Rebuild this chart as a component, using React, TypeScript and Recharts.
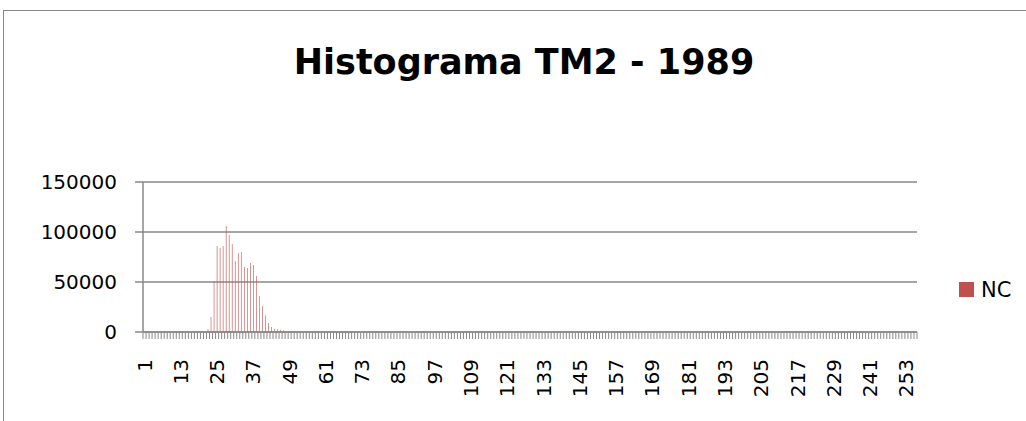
import { BarChart, Bar, XAxis, YAxis, CartesianGrid } from 'recharts';

// histogram bins 1..256 (category axis)
const BINS = Array.from({ length: 256 }, (_, i) => String(i + 1));

// pixel counts per bin
const NC_COUNTS = [
  0, 0, 0, 0, 0, 0, 0, 0, 0, 0, 0, 0, 0, 0, 0, 0,
  0, 0, 0, 0, 0, 3000, 15000, 51000, 86000, 84000, 86000, 106000, 97000, 88000, 71000, 79000,
  80000, 65000, 64000, 69000, 67000, 56000, 36000, 26000, 16500, 9000, 5000, 3200, 2800, 2200, 1800, 0,
  0, 0, 0, 0, 0, 0, 0, 0, 0, 0, 0, 0, 0, 0, 0, 0,
  0, 0, 0, 0, 0, 0, 0, 0, 0, 0, 0, 0, 0, 0, 0, 0,
  0, 0, 0, 0, 0, 0, 0, 0, 0, 0, 0, 0, 0, 0, 0, 0,
  0, 0, 0, 0, 0, 0, 0, 0, 0, 0, 0, 0, 0, 0, 0, 0,
  0, 0, 0, 0, 0, 0, 0, 0, 0, 0, 0, 0, 0, 0, 0, 0,
  0, 0, 0, 0, 0, 0, 0, 0, 0, 0, 0, 0, 0, 0, 0, 0,
  0, 0, 0, 0, 0, 0, 0, 0, 0, 0, 0, 0, 0, 0, 0, 0,
  0, 0, 0, 0, 0, 0, 0, 0, 0, 0, 0, 0, 0, 0, 0, 0,
  0, 0, 0, 0, 0, 0, 0, 0, 0, 0, 0, 0, 0, 0, 0, 0,
  0, 0, 0, 0, 0, 0, 0, 0, 0, 0, 0, 0, 0, 0, 0, 0,
  0, 0, 0, 0, 0, 0, 0, 0, 0, 0, 0, 0, 0, 0, 0, 0,
  0, 0, 0, 0, 0, 0, 0, 0, 0, 0, 0, 0, 0, 0, 0, 0,
  0, 0, 0, 0, 0, 0, 0, 0, 0, 0, 0, 0, 0, 0, 0, 0,
];

const X_LABELS = [
  '1', '13', '25', '37', '49', '61', '73', '85', '97', '109', '121',
  '133', '145', '157', '169', '181', '193', '205', '217', '229', '241', '253',
];

const Y_TICKS = [0, 50000, 100000, 150000];

const data = BINS.map((bin, i) => ({ bin, nc: NC_COUNTS[i] }));

const FONT = 'DejaVu Sans';
const GRAY = '#888888';
const RED = '#C0504D';
const PLOT_LEFT = 143;
const PLOT_RIGHT = 917;
const HALF_BAND = (PLOT_RIGHT - PLOT_LEFT) / BINS.length / 2;

function BinTick(props: any) {
  const { x, y, payload } = props;
  const showLabel = X_LABELS.includes(payload.value);
  return (
    <g>
      <line x1={x - HALF_BAND} y1={y} x2={x - HALF_BAND} y2={y + 7} stroke={GRAY} strokeWidth={1} />
      {payload.index === BINS.length - 1 && (
        <line x1={x + HALF_BAND} y1={y} x2={x + HALF_BAND} y2={y + 7} stroke={GRAY} strokeWidth={1} />
      )}
      {showLabel && (
        <text
          x={x}
          y={y + 27}
          transform={`rotate(-90, ${x}, ${y + 27})`}
          textAnchor="end"
          dominantBaseline="central"
          fontFamily={FONT}
          fontSize={20}
          fill="#000"
        >
          {payload.value}
        </text>
      )}
    </g>
  );
}

export default function App() {
  return (
    <div
      style={{
        position: 'fixed',
        left: 0,
        top: 0,
        width: 1026,
        height: 421,
        overflow: 'hidden',
        background: '#fff',
      }}
    >
      <div
        style={{
          position: 'absolute',
          left: 3,
          top: 10,
          width: 1100,
          height: 500,
          border: `1px solid ${GRAY}`,
        }}
      />
      <div style={{ position: 'absolute', left: 0, top: 0 }}>
        <BarChart
          width={1026}
          height={421}
          data={data}
          margin={{ top: 182, right: 1026 - PLOT_RIGHT, bottom: 9, left: 0 }}
          barCategoryGap="60%"
        >
          <CartesianGrid vertical={false} stroke={GRAY} strokeWidth={1.5} />
          <XAxis
            dataKey="bin"
            height={80}
            interval={0}
            tickLine={false}
            tickSize={0}
            tickMargin={0}
            axisLine={{ stroke: GRAY, strokeWidth: 1.5 }}
            tick={<BinTick />}
          />
          <YAxis
            width={PLOT_LEFT}
            domain={[0, 150000]}
            ticks={Y_TICKS}
            tickSize={8}
            tickMargin={18}
            tickLine={{ stroke: GRAY, strokeWidth: 1.5 }}
            axisLine={{ stroke: GRAY, strokeWidth: 1.5 }}
            tick={{ fontSize: 20, fill: '#000', fontFamily: FONT }}
          />
          <Bar dataKey="nc" name="NC" fill={RED} isAnimationActive={false} />
        </BarChart>
      </div>
      <svg
        width={1026}
        height={421}
        style={{ position: 'absolute', left: 0, top: 0, pointerEvents: 'none' }}
      >
        <text x={524} y={74} textAnchor="middle" fontFamily={FONT} fontWeight="bold" fontSize={35} fill="#000">
          Histograma TM2 - 1989
        </text>
        <rect x={959} y={282} width={15} height={15} fill={RED} />
        <text x={981} y={297} fontFamily={FONT} fontSize={21} fill="#000">
          NC
        </text>
      </svg>
    </div>
  );
}
